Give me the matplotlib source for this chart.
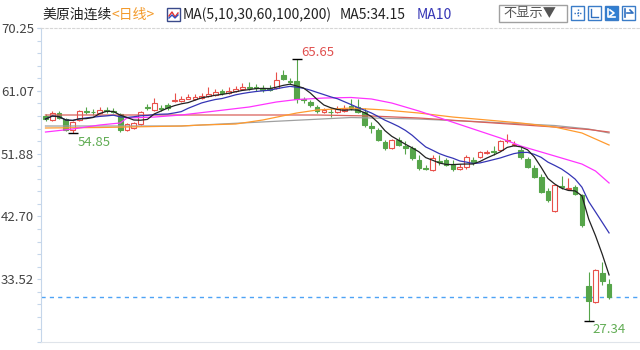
import numpy as np
import pandas as pd
import matplotlib
matplotlib.use('Agg')
import matplotlib.pyplot as plt
from matplotlib.patches import Rectangle
from matplotlib.lines import Line2D

plt.rcParams['font.family'] = ['Noto Sans CJK SC', 'DejaVu Sans']

# daily candles of US crude (continuous), oldest first
opens = [57.38, 56.80, 57.82, 56.94, 55.33, 56.80, 58.11, 57.97, 57.82, 58.26,
         58.11, 57.67, 55.33, 55.63, 56.21, 58.70, 58.26, 58.55, 59.00, 59.57,
         59.57, 59.87, 59.87, 60.01, 60.30, 60.45, 61.04, 60.74, 61.04, 61.33,
         61.62, 61.62, 61.48, 61.48, 61.48, 63.38, 62.50, 62.50, 59.87, 59.43,
         58.70, 57.97, 57.97, 57.97, 58.11, 58.84, 58.70, 57.90, 55.92, 55.33,
         53.58, 52.70, 53.87, 53.00, 52.70, 50.95, 49.78, 49.48, 50.80, 50.95,
         50.36, 49.63, 49.92, 50.95, 51.39, 51.97, 52.27, 52.41, 53.73, 53.14,
         52.41, 51.05, 49.73, 48.51, 46.46, 43.54, 47.10, 46.70, 47.05, 45.83,
         32.53, 30.19, 34.43, 32.82]
closes = [56.94, 57.82, 57.09, 55.33, 56.50, 58.11, 57.97, 57.90, 58.26, 58.11,
          57.97, 55.33, 56.21, 56.36, 57.97, 58.55, 59.28, 58.40, 58.55, 59.72,
          59.87, 60.16, 60.16, 60.30, 60.60, 60.89, 60.74, 61.04, 61.33, 61.62,
          61.48, 61.48, 61.19, 61.19, 62.65, 62.79, 62.35, 59.87, 59.72, 58.99,
          58.11, 58.26, 57.90, 58.40, 58.40, 58.55, 57.97, 56.00, 55.63, 53.87,
          52.70, 53.87, 53.14, 52.70, 51.24, 49.78, 49.63, 51.24, 50.66, 50.22,
          49.63, 49.92, 51.39, 50.66, 52.12, 52.12, 52.12, 53.73, 53.87, 53.29,
          51.34, 49.97, 48.51, 46.31, 45.10, 47.29, 46.95, 46.85, 45.98, 41.50,
          30.30, 34.80, 33.20, 30.93]
highs = [57.67, 58.11, 58.11, 57.09, 56.65, 58.26, 58.70, 58.40, 58.70, 58.70,
         58.55, 57.82, 56.36, 56.50, 58.11, 59.14, 60.01, 59.00, 59.28, 60.74,
         60.30, 60.60, 60.60, 60.74, 61.62, 61.33, 61.33, 61.57, 61.77, 62.21,
         62.35, 62.06, 61.91, 61.91, 63.81, 64.11, 62.94, 65.65, 60.16, 59.72,
         58.99, 58.55, 58.55, 58.84, 58.99, 59.87, 59.87, 58.55, 56.50, 55.63,
         53.87, 54.02, 54.31, 53.72, 53.00, 51.68, 50.22, 51.68, 51.68, 51.24,
         50.95, 50.36, 51.68, 51.39, 52.27, 52.41, 53.00, 53.87, 54.75, 53.72,
         52.85, 51.39, 50.22, 48.90, 46.85, 47.44, 48.60, 48.27, 47.30, 45.98,
         34.57, 34.95, 36.00, 33.55]
lows = [56.65, 56.65, 56.94, 55.19, 54.85, 56.65, 57.67, 57.60, 57.67, 57.82,
        57.82, 55.04, 55.19, 55.48, 56.07, 58.26, 58.11, 58.11, 58.26, 59.43,
        59.43, 59.80, 59.72, 59.87, 60.16, 60.30, 60.45, 60.60, 60.89, 61.19,
        61.19, 61.04, 60.89, 61.04, 61.33, 62.65, 62.06, 59.28, 59.28, 58.70,
        57.82, 57.82, 57.23, 57.82, 57.97, 58.26, 57.82, 55.77, 54.90, 53.72,
        52.41, 52.56, 53.00, 51.83, 50.95, 49.48, 49.48, 49.34, 50.22, 50.07,
        49.34, 49.48, 49.63, 50.22, 51.24, 51.83, 51.68, 52.27, 53.43, 53.00,
        51.10, 49.78, 48.32, 46.12, 44.81, 43.39, 46.70, 46.50, 45.80, 41.20,
        27.34, 30.04, 32.67, 30.63]

# longer averages (candle index -> value)
ma30_idx = [0, 4, 8, 11, 12, 16, 20, 25, 30, 34, 37, 41, 45, 48, 51, 55, 59, 63,
            67, 70, 73, 76, 79, 81, 83]
ma30_val = [55.04, 55.48, 56.07, 56.36, 57.09, 57.23, 57.53, 58.11, 58.70, 59.43,
            59.79, 60.01, 60.09, 59.87, 59.28, 58.11, 56.80, 55.48, 54.16, 52.99,
            52.12, 51.24, 50.36, 49.34, 47.59]
ma60_idx = [0, 8, 20, 23, 28, 32, 37, 40, 45, 50, 55, 60, 65, 70, 75, 79, 83]
ma60_val = [55.63, 55.70, 55.92, 56.07, 56.21, 56.80, 57.82, 58.26, 58.55, 58.26,
            57.82, 57.23, 56.80, 56.36, 55.77, 54.90, 53.14]
ma100_idx = [0, 20, 40, 48, 55, 65, 75, 80, 83]
ma100_val = [57.53, 57.53, 57.53, 57.38, 57.09, 56.43, 55.77, 55.41, 55.04]
ma200_idx = [0, 20, 45, 55, 65, 75, 80, 83]
ma200_val = [55.92, 55.92, 57.16, 56.94, 56.50, 55.99, 55.48, 54.90]

yticks = [33.52, 42.70, 51.88, 61.07, 70.25]

W, H = 640, 350
def fx(px):
    return px / W
def fy(py):
    return 1 - py / H

fig = plt.figure(figsize=(6.4, 3.5), dpi=100)
ax = fig.add_axes([fx(41), fy(342), (640 - 41) / W, (342 - 28) / H])
x0, step = 45.5, 6.79
ax.set_xlim((41 - x0) / step, (640 - x0) / step)
ax.set_ylim(24.34, 70.25)

o, c, h, l = map(np.array, (opens, closes, highs, lows))
idx = np.arange(len(c))
up = c >= o
red, green = '#e8504a', '#56a54a'
cols = np.where(up, red, green)
ax.vlines(idx, l, h, colors=cols, linewidth=0.8, zorder=2)
bot = np.minimum(o, c)
bh = np.maximum(np.abs(c - o), 0.1)
ax.bar(idx[up], bh[up], bottom=bot[up], width=0.7, facecolor='white',
       edgecolor=red, linewidth=0.8, zorder=3)
ax.bar(idx[~up], bh[~up], bottom=bot[~up], width=0.7, facecolor=green,
       edgecolor=green, linewidth=0.8, zorder=3)

s = pd.Series(c)
ma5 = s.rolling(5, min_periods=1).mean()
ma10 = s.rolling(10, min_periods=1).mean()
lw = 0.9
ax.plot(ma200_idx, ma200_val, color='#a0a0a0', lw=lw, zorder=4)
ax.plot(ma100_idx, ma100_val, color='#d9605a', lw=lw, zorder=4)
ax.plot(ma60_idx, ma60_val, color='#ff9a2e', lw=lw, zorder=4)
ax.plot(ma30_idx, ma30_val, color='#ff33ff', lw=lw, zorder=4)
ax.plot(idx, ma10, color='#3535b5', lw=lw, zorder=5)
ax.plot(idx, ma5, color='#222222', lw=lw, zorder=6)

ax.axhline(c[-1], color='#4da3f5', lw=1, ls=(0, (3, 3)), zorder=1)

# high / low marks
hi = int(np.argmax(h))
lo = int(np.argmin(l))
lo1 = int(np.argmin(l[:40]))
for k in (hi, lo, lo1):
    ax.plot([k], [h[k] if k == hi else l[k]], marker='_', ms=7, mew=1,
            color='k', zorder=7)
ax.annotate(f'{h[hi]:.2f}', (hi, h[hi]), xytext=(5, 7), textcoords='offset pixels',
            color='#e0504f', fontsize=9.5, va='center', ha='left')
ax.annotate(f'{l[lo]:.2f}', (lo, l[lo]), xytext=(4, -8), textcoords='offset pixels',
            color='#62ad55', fontsize=9.5, va='center', ha='left')
ax.annotate(f'{l[lo1]:.2f}', (lo1, l[lo1]), xytext=(5, -9), textcoords='offset pixels',
            color='#62ad55', fontsize=9.5, va='center', ha='left')

# axis styling
ax.set_yticks(yticks)
ax.set_yticklabels([f'{v:.2f}' for v in yticks])
sub = (yticks[1] - yticks[0]) / 5
ax.set_yticks(np.arange(yticks[0] - 5 * sub, yticks[-1], sub), minor=True)
ax.set_xticks([])
ax.tick_params(axis='y', which='both', length=3, width=0.8, color='#c5d6ea',
               labelcolor='#444444', labelsize=9.5, pad=2)
ax.spines['right'].set_visible(False)
ax.spines['left'].set_color('#c5d6ea')
ax.spines['bottom'].set_color('#dfe4ea')
ax.spines['top'].set_color('#d6d6d6')
ax.spines['top'].set_linestyle((0, (2, 2)))
for sp in ax.spines.values():
    sp.set_linewidth(0.8)

# header
ty = fy(15)
hs = 10
fig.text(fx(42), ty, '美原油连续', color='#222222', fontsize=hs, va='center')
fig.text(fx(111), ty, '<日线>', color='#f39a2b', fontsize=hs, va='center')
fig.add_artist(Rectangle((fx(167), fy(21)), 13 / W, 13 / H, transform=fig.transFigure,
                         facecolor='white', edgecolor='#3a4a8a', lw=1))
fig.add_artist(Line2D([fx(169), fx(172), fx(175), fx(178)], [fy(16), fy(12), fy(17), fy(13)],
                      transform=fig.transFigure, color='#e03030', lw=1))
fig.add_artist(Line2D([fx(169), fx(172), fx(175), fx(178)], [fy(18), fy(15), fy(18), fy(15)],
                      transform=fig.transFigure, color='#3050c0', lw=1))
fig.text(fx(183), ty, 'MA(5,10,30,60,100,200)', color='#222222', fontsize=hs, va='center')
fig.text(fx(340), ty, f'MA5:{ma5.iloc[-1]:.2f}', color='#222222', fontsize=hs, va='center')
fig.text(fx(417), ty, 'MA10', color='#3535b5', fontsize=hs, va='center')

fig.add_artist(Rectangle((fx(499), fy(22)), 68 / W, 17 / H, transform=fig.transFigure,
                         facecolor='white', edgecolor='#a0a0a0', lw=1))
fig.text(fx(503), fy(14), '不显示▼', color='#555555', fontsize=9.5, va='center')
for k, bx in enumerate([571, 588, 605, 622]):
    filled = k == 2
    fig.add_artist(Rectangle((fx(bx), fy(20)), 13 / W, 14 / H, transform=fig.transFigure,
                             facecolor='#2f7fd3' if filled else 'white',
                             edgecolor='#3a7cc8', lw=1))
gc = '#2f6fc0'
fig.add_artist(Line2D([fx(574), fx(581)], [fy(13), fy(13)], transform=fig.transFigure,
                      color=gc, lw=1, ls=(0, (1, 1))))
fig.add_artist(Line2D([fx(577.5), fx(577.5)], [fy(9), fy(17)], transform=fig.transFigure,
                      color=gc, lw=1, ls=(0, (1, 1))))
fig.add_artist(Line2D([fx(591), fx(591), fx(598)], [fy(9), fy(17), fy(17)],
                      transform=fig.transFigure, color=gc, lw=1))
fig.add_artist(Line2D([fx(608), fx(608), fx(615)], [fy(9), fy(17), fy(17)],
                      transform=fig.transFigure, color='white', lw=1.2))
fig.add_artist(Line2D([fx(610), fx(614), fx(610)], [fy(10), fy(13), fy(16)],
                      transform=fig.transFigure, color='white', lw=1.2))
fig.add_artist(Line2D([fx(625), fx(625)], [fy(9), fy(17)], transform=fig.transFigure,
                      color=gc, lw=1.2))
fig.add_artist(Line2D([fx(627), fx(633), fx(630)], [fy(13), fy(13), fy(10)],
                      transform=fig.transFigure, color=gc, lw=1.2))

fig.savefig('out.png', dpi=100)
